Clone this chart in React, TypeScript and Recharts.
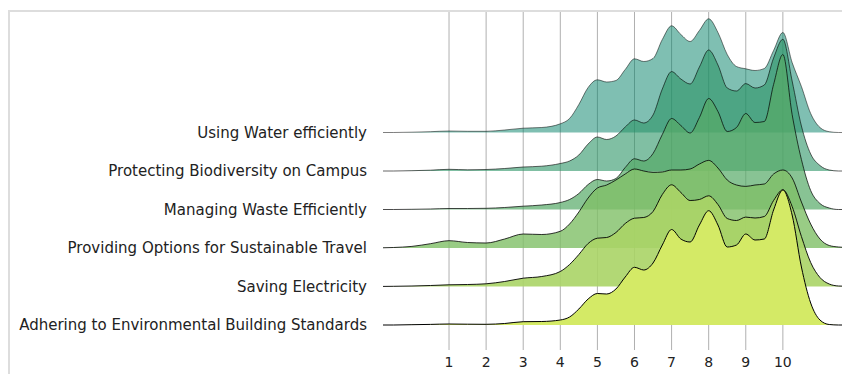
import React from 'react';
import { ComposedChart, Area, XAxis, YAxis, CartesianGrid } from 'recharts';

// Ridge categories, top (drawn first) to bottom (drawn last)
const CATEGORIES = [
  'Using Water efficiently',
  'Protecting Biodiversity on Campus',
  'Managing Waste Efficiently',
  'Providing Options for Sustainable Travel',
  'Saving Electricity',
  'Adhering to Environmental Building Standards',
];

const X_TICKS = [1, 2, 3, 4, 5, 6, 7, 8, 9, 10];

// Rating values at which the density curves are sampled
const X_VALUES = [
  -1, -0.5, 0, 0.5, 1, 1.5, 2, 2.5, 3, 3.5, 4,
  4.25, 4.5, 4.75, 5, 5.25, 5.5, 5.75, 6, 6.25, 6.5,
  6.75, 7, 7.25, 7.5, 7.75, 8, 8.25, 8.5, 8.75, 9,
  9.25, 9.5, 9.75, 10, 10.25, 10.5, 10.75, 11, 11.25, 11.5,
  12,
];

// Ridge heights (density, scaled)
const WATER = [
  0, 0, 0.3, 0.8, 1.5, 1.2, 1.2, 2.5, 4.3, 5, 8.7,
  14, 28, 45, 52.7, 50.5, 52, 63, 73.7, 71, 74,
  93, 106.7, 98, 91, 102, 113.7, 100, 78, 66, 63.7,
  62, 64, 82, 100, 70, 46, 19, 5, 0.8, 0,
  0,
];
const BIODIVERSITY = [
  0, 0, 0.3, 0.8, 1.7, 1.2, 1.5, 2.5, 4, 4.8, 7.5,
  10, 16, 27, 34, 31.5, 35, 44, 51, 48, 56,
  82, 99.4, 92, 87, 104, 121, 106, 83, 80, 87.4,
  83, 86, 113, 131.7, 90, 45, 17, 5.5, 1, 0,
  0,
];
const WASTE = [
  0, 0, 0.2, 0.5, 1, 1, 1.2, 2, 3.3, 4.5, 7,
  10, 16, 25, 30, 28.5, 31, 42, 50.7, 48.5, 56,
  75, 91, 84, 76.5, 92, 111, 98, 78, 82, 96,
  87, 88, 125, 155, 95, 50, 19, 6, 1.5, 0,
  0,
];
const TRAVEL = [
  0, 0.5, 1.6, 4.3, 7.3, 5.5, 5, 9, 14, 13.5, 16.7,
  24, 36, 50, 60, 63, 68, 74, 79, 77, 75.6,
  76, 78, 78, 79, 84, 87.6, 80, 68, 63, 61.6,
  63, 64, 74, 78, 70, 46, 24, 9, 2.5, 1,
  0,
];
const ELECTRICITY = [
  0, 0.2, 0.5, 1, 1.7, 2, 2.7, 5, 8.3, 10, 15,
  22, 32, 43, 48.3, 49, 54, 63, 68.3, 69, 75,
  92, 101.7, 94, 86, 87, 90.7, 82, 68, 66, 69.4,
  68.5, 70, 86, 96.7, 80, 50, 24, 9, 2.5, 0.5,
  0,
];
const BUILDING = [
  0, 0, 0.3, 0.6, 1, 0.8, 0.7, 1.5, 3.3, 3.5, 5,
  8, 16, 26, 31.5, 31, 36, 48, 57.7, 55, 62,
  80, 95.5, 86, 83, 100, 114.3, 100, 78, 80, 91,
  85, 86, 115, 135, 110, 58, 22, 5, 0.5, 0,
  0,
];

const SERIES = [WATER, BIODIVERSITY, WASTE, TRAVEL, ELECTRICITY, BUILDING];
const COLORS = ['#008066', '#2b9566', '#55aa66', '#80bf66', '#aad466', '#d4ea66'];
const ALPHAS = [0.5, 0.6, 0.7, 0.8, 0.9, 1.0];

const RIDGE_SPACING = 38.5;
const N = CATEGORIES.length;
const OFFSETS = CATEGORIES.map((_, i) => (N - 1 - i) * RIDGE_SPACING);

const rows = X_VALUES.map((x, j) => {
  const row: Record<string, number> = { x };
  SERIES.forEach((s, i) => {
    row['r' + i] = OFFSETS[i] + s[j];
  });
  return row;
});

const labelFor = (v: number) => {
  const idx = OFFSETS.findIndex((o) => Math.abs(o - v) < 0.01);
  return idx >= 0 ? CATEGORIES[idx] : '';
};

const FONT = '"DejaVu Sans", sans-serif';

export default function App() {
  return (
    <div style={{ position: 'relative', width: 842, height: 366, overflow: 'hidden' }}>
      <div
        style={{
          position: 'absolute',
          left: 0,
          top: 2,
          width: 900,
          height: 420,
          borderTop: '2px solid #dddddd',
          borderLeft: '2px solid #dddddd',
        }}
      />
      <div style={{ position: 'absolute', left: 0, top: 0 }}>
        <ComposedChart
          width={842}
          height={366}
          data={rows}
          margin={{ top: 4, right: 0, bottom: 0, left: 15 }}
        >
          <CartesianGrid
            horizontal={false}
            vertical={true}
            syncWithTicks
            stroke="#b0b0b0"
            strokeWidth={1}
          />
          <XAxis
            dataKey="x"
            type="number"
            domain={[-0.78, 11.81]}
            allowDataOverflow
            ticks={X_TICKS}
            interval={0}
            height={24}
            axisLine={false}
            tickLine={false}
            tickSize={0}
            tickMargin={7}
            tick={{ fontSize: 14, fill: '#222', fontFamily: FONT }}
          />
          <YAxis
            type="number"
            domain={[-25, 313]}
            allowDataOverflow
            ticks={[...OFFSETS].reverse()}
            interval={0}
            width={360}
            axisLine={false}
            tickLine={false}
            tickSize={0}
            tickMargin={16}
            tickFormatter={labelFor}
            tick={{ fontSize: 15, fill: '#222', fontFamily: FONT }}
          />
          {SERIES.map((_, i) => (
            <Area
              key={i}
              dataKey={'r' + i}
              type="monotone"
              baseValue={OFFSETS[i]}
              fill={COLORS[i]}
              fillOpacity={ALPHAS[i]}
              stroke="#000"
              strokeOpacity={ALPHAS[i]}
              strokeWidth={1}
              dot={false}
              activeDot={false}
              isAnimationActive={false}
            />
          ))}
        </ComposedChart>
      </div>
    </div>
  );
}
